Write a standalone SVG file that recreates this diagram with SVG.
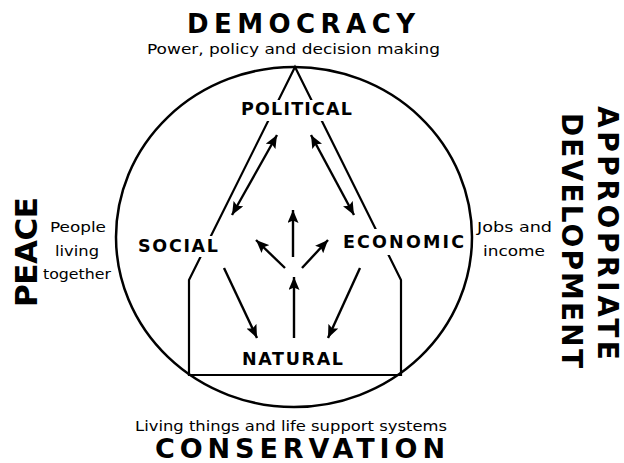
<svg xmlns="http://www.w3.org/2000/svg" width="624" height="463" viewBox="0 0 624 463">
  <style>
    .head { font-family: "DejaVu Sans", "Liberation Sans", sans-serif; font-weight: bold; fill: #000; }
    .node { font-family: "DejaVu Sans", "Liberation Sans", sans-serif; font-weight: bold; font-size: 17.5px; fill: #000; }
    .small { font-family: "DejaVu Sans", "Liberation Sans", sans-serif; font-size: 14.5px; fill: #000; }
    .shape { fill: none; stroke: #000; stroke-width: 2.2; stroke-linejoin: miter; }
    .arrow { fill: none; stroke: #000; stroke-width: 2.4; }
    .bg { fill: #fff; stroke: none; }
  </style>
  <defs>
    <marker id="ah" viewBox="0 0 13 11" refX="13" refY="5.5" markerWidth="13" markerHeight="11" markerUnits="userSpaceOnUse" orient="auto-start-reverse">
      <path d="M0,0 L13,5.5 L0,11 L2.5,5.5 Z" fill="#000"/>
    </marker>
  </defs>
  <rect width="624" height="463" fill="#fff"/>

  <!-- background shapes -->
  <g id="frame">
    <ellipse cx="294" cy="237" rx="178" ry="170" fill="none" stroke="#000" stroke-width="2.5"/>
    <path class="shape" d="M189,375 V280 L295,67 L401,280 V375 Z"/>
  </g>

  <!-- outer labels -->
  <g id="democracy">
    <text class="head" x="301" y="33" font-size="26" text-anchor="middle" textLength="228" lengthAdjust="spacing">DEMOCRACY</text>
    <text class="small" x="293.5" y="54" text-anchor="middle" textLength="293" lengthAdjust="spacingAndGlyphs">Power, policy and decision making</text>
  </g>
  <g id="conservation">
    <text class="small" x="291" y="431" text-anchor="middle" textLength="312" lengthAdjust="spacingAndGlyphs">Living things and life support systems</text>
    <text class="head" x="300" y="458" font-size="27" text-anchor="middle" textLength="290" lengthAdjust="spacing">CONSERVATION</text>
  </g>
  <g id="peace">
    <text class="head" transform="translate(37,252) rotate(-90)" x="0" y="0" font-size="31" text-anchor="middle" textLength="110" lengthAdjust="spacing">PEACE</text>
    <text class="small" x="78" y="232" text-anchor="middle" textLength="56" lengthAdjust="spacingAndGlyphs">People</text>
    <text class="small" x="77" y="256" text-anchor="middle" textLength="44" lengthAdjust="spacingAndGlyphs">living</text>
    <text class="small" x="77" y="279" text-anchor="middle" textLength="68" lengthAdjust="spacingAndGlyphs">together</text>
  </g>
  <g id="appropriate-development">
    <text class="head" transform="translate(598,233) rotate(90)" x="0" y="0" font-size="28" text-anchor="middle" textLength="254" lengthAdjust="spacing">APPROPRIATE</text>
    <text class="head" transform="translate(562,240.5) rotate(90)" x="0" y="0" font-size="28" text-anchor="middle" textLength="255" lengthAdjust="spacing">DEVELOPMENT</text>
    <text class="small" x="514.5" y="232" text-anchor="middle" textLength="75" lengthAdjust="spacingAndGlyphs">Jobs and</text>
    <text class="small" x="514" y="256" text-anchor="middle" textLength="62" lengthAdjust="spacingAndGlyphs">income</text>
  </g>

  <!-- connectors -->
  <g id="connectors">
    <path class="arrow" d="M277,135 L232,215" marker-start="url(#ah)" marker-end="url(#ah)"/>
    <path class="arrow" d="M311,135 L354,215" marker-start="url(#ah)" marker-end="url(#ah)"/>
    <path class="arrow" d="M293,257 L293,210" marker-end="url(#ah)"/>
    <path class="arrow" d="M285,268 L256,240" marker-end="url(#ah)"/>
    <path class="arrow" d="M302,268 L328,240" marker-end="url(#ah)"/>
    <path class="arrow" d="M294,338 L294,277" marker-end="url(#ah)"/>
    <path class="arrow" d="M224,268 L257,338" marker-end="url(#ah)"/>
    <path class="arrow" d="M360,268 L328,338" marker-end="url(#ah)"/>
  </g>

  <!-- nodes -->
  <g id="political">
    <rect class="bg" x="238" y="100" width="117" height="21"/>
    <text class="node" x="241" y="115" textLength="111" lengthAdjust="spacing">POLITICAL</text>
  </g>
  <g id="social">
    <rect class="bg" x="134" y="236" width="86" height="21"/>
    <text class="node" x="138" y="252" textLength="80" lengthAdjust="spacing">SOCIAL</text>
  </g>
  <g id="economic">
    <rect class="bg" x="340" y="229" width="127" height="26"/>
    <text class="node" x="343" y="248" textLength="121" lengthAdjust="spacing">ECONOMIC</text>
  </g>
  <g id="natural">
    <text class="node" x="242" y="365" textLength="101" lengthAdjust="spacing">NATURAL</text>
  </g>
</svg>
